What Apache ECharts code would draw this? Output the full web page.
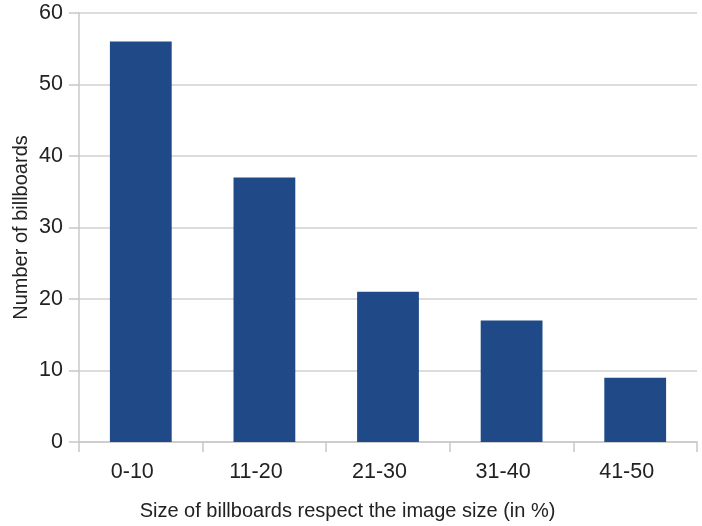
<!DOCTYPE html>
<html>
<head>
<meta charset="utf-8">
<script src="https://cdn.jsdelivr.net/npm/echarts@6/dist/echarts.min.js"></script>
<style>html,body{margin:0;padding:0;background:#fff}#c{width:702px;height:526px}</style>
</head>
<body>
<div id="c"></div>
<script>
var categories = ['0-10', '11-20', '21-30', '31-40', '41-50'];
var values = [56, 37, 21, 17, 9];
var yTicks = [0, 10, 20, 30, 40, 50, 60];

var chart = echarts.init(document.getElementById('c'), null, {renderer: 'canvas'});
var font = '"Liberation Sans", Arial, sans-serif';
chart.setOption({
  animation: false,
  grid: {left: 79, top: 13, right: 5, bottom: 84, outerBoundsMode: 'none', containLabel: false},
  xAxis: {
    type: 'category',
    data: categories,
    name: 'Size of billboards respect the image size (in %)',
    nameLocation: 'middle',
    nameGap: 59,
    nameMoveOverlap: false,
    nameTextStyle: {fontFamily: font, fontSize: 20, color: '#222', padding: [0, 81, 0, 0]},
    axisLine: {lineStyle: {color: '#c8c8c8', width: 1.5}},
    axisTick: {show: true, length: 10, lineStyle: {color: '#c8c8c8', width: 1.5}},
    axisLabel: {fontFamily: font, fontSize: 21.5, color: '#222', margin: 19, padding: [0, 17, 0, 0]}
  },
  yAxis: {
    type: 'value',
    min: yTicks[0],
    max: yTicks[yTicks.length - 1],
    interval: 10,
    name: 'Number of billboards',
    nameLocation: 'middle',
    nameGap: 48,
    nameMoveOverlap: false,
    nameTextStyle: {fontFamily: font, fontSize: 20, color: '#222'},
    axisLine: {show: true, lineStyle: {color: '#c8c8c8', width: 1.5}},
    axisTick: {show: true, length: 10, lineStyle: {color: '#c8c8c8', width: 1.5}},
    axisLabel: {fontFamily: font, fontSize: 21.5, color: '#222', margin: 16},
    splitLine: {show: true, lineStyle: {color: '#d0d0d0', width: 1.5}}
  },
  series: [{
    type: 'bar',
    data: values,
    barWidth: '50%',
    itemStyle: {color: '#1f4a87'}
  }]
});
</script>
</body>
</html>
